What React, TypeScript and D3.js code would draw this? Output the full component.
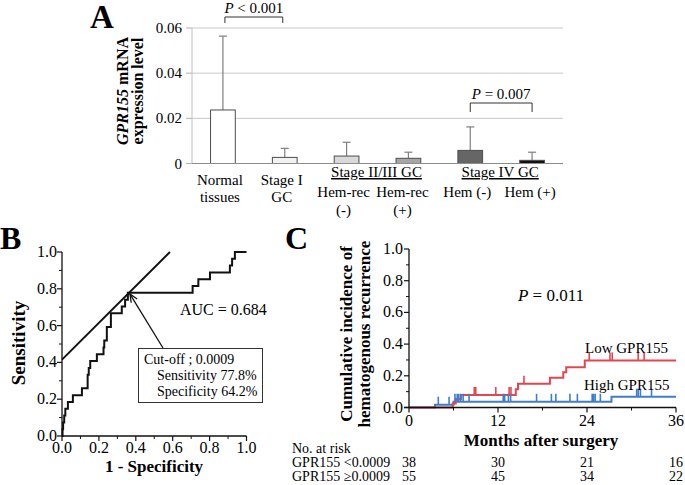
import React from "react";
import * as d3 from "d3";

const FONT = "'Liberation Serif', 'Times New Roman', Times, serif";

// ---------- Panel A data ----------
const aCategories = ["normal", "stage1", "hemRecNeg", "hemRecPos", "hemNeg", "hemPos"];
const aMeans = [0.0237, 0.0027, 0.0033, 0.0023, 0.0058, 0.0014];
const aUpper = [0.0564, 0.0067, 0.0094, 0.005, 0.0162, 0.005];
const aFills = ["#ffffff", "#f2f2f2", "#d9d9d9", "#a6a6a6", "#666666", "#111111"];
const aYTicks = [0, 0.02, 0.04, 0.06];
const aYTickLabels = ["0", "0.02", "0.04", "0.06"];
const aLabelTop = ["Normal", "Stage I", "Hem-rec", "Hem-rec", "Hem (-)", "Hem (+)"];
const aLabelBottom = ["tissues", "GC", "(-)", "(+)", "", ""];
const aGroups = [
  { label: "Stage II/III GC", from: 2, to: 3 },
  { label: "Stage IV GC", from: 4, to: 5 },
];

// ---------- Panel B data ----------
const rocFpr = [0, 0.003, 0.006, 0.012, 0.018, 0.032, 0.059, 0.108, 0.139, 0.145, 0.153, 0.189, 0.225, 0.229, 0.243, 0.265, 0.324, 0.342, 0.357, 0.708, 0.739, 0.802, 0.91, 0.922, 0.937, 1.0];
const rocTpr = [0, 0.037, 0.074, 0.111, 0.148, 0.185, 0.222, 0.259, 0.333, 0.37, 0.407, 0.444, 0.481, 0.519, 0.593, 0.667, 0.704, 0.741, 0.778, 0.815, 0.852, 0.889, 0.926, 0.963, 1.0, 1.0];
const tangentX = [0, 0.585];
const tangentY = [0.415, 1.0];
const cutoffPoint = [0.357, 0.778];
const rocTicks = [0, 0.2, 0.4, 0.6, 0.8, 1.0];
const rocMinor = [0.1, 0.3, 0.5, 0.7, 0.9];

// ---------- Panel C data ----------
const lowTimes = [0, 5.9, 6.3, 7.0, 14.4, 14.7, 19.0, 20.8, 21.2, 23.7, 36];
const lowValues = [0, 0.026, 0.053, 0.079, 0.115, 0.15, 0.187, 0.223, 0.254, 0.297, 0.297];
const lowCensor = [8.8, 9.0, 11.7, 13.5, 13.75, 15.5, 24.3, 27.1, 27.4, 30.9, 31.7];
const highTimes = [0, 3.5, 6.0, 27.3, 36];
const highValues = [0, 0.018, 0.036, 0.068, 0.068];
const highCensor = [3.95, 5.4, 6.2, 6.5, 6.7, 6.95, 7.3, 8.1, 12.7, 12.9, 13.4, 13.7, 17.2, 19.2, 19.8, 21.7, 22.7, 24.7, 24.9, 25.1, 25.8, 30.7, 30.9, 31.2, 32.7];
const kmXTicks = [0, 12, 24, 36];
const kmXMinor = [6, 18, 30];
const kmYTicks = [0, 0.2, 0.4, 0.6, 0.8, 1.0];
const kmYMinor = [0.1, 0.3, 0.5, 0.7, 0.9];
const riskTimes = [0, 12, 24, 36];
const riskLow = [38, 30, 21, 16];
const riskHigh = [55, 45, 34, 22];

const RED = "#e2474f";
const BLUE = "#3f7dcc";

function stepValue(times: number[], values: number[], t: number) {
  const i = d3.bisectRight(times, t) - 1;
  return values[Math.max(0, i)];
}

export default function App() {
  // Panel A scales
  const xA = d3.scaleBand<string>().domain(aCategories).range([192, 563]).paddingInner(0.6).paddingOuter(0.3);
  const yA = d3.scaleLinear().domain([0, 0.06]).range([163.5, 28]);
  const cA = (i: number) => (xA(aCategories[i]) as number) + xA.bandwidth() / 2;
  const labelShift = [-3, -3, -3, -6, -3, -2];

  // Panel B scales
  const xB = d3.scaleLinear().domain([0, 1]).range([62, 246.5]);
  const yB = d3.scaleLinear().domain([0, 1]).range([436, 252]);
  const rocLine = d3.line<number>().x((_, i) => xB(rocFpr[i])).y((_, i) => yB(rocTpr[i])).curve(d3.curveStepAfter);
  const fmt1 = d3.format(".1f");

  // Panel C scales
  const xC = d3.scaleLinear().domain([0, 36]).range([409, 676]);
  const yC = d3.scaleLinear().domain([0, 1]).range([407.5, 249]);
  const kmLine = (times: number[], values: number[]) =>
    d3.line<number>().x((_, i) => xC(times[i])).y((_, i) => yC(values[i])).curve(d3.curveStepAfter)(times as any) as string;

  // arrow in B
  const tipX = xB(cutoffPoint[0]) + 2;
  const tipY = yB(cutoffPoint[1]) + 1;
  const startX = 163, startY = 348;
  const ang = Math.atan2(startY - tipY, startX - tipX);
  const ah = 9, spread = 0.4;

  return (
    <svg width={685} height={485} style={{ position: "absolute", left: 0, top: 0, background: "#fff" }} fontFamily={FONT}>
      <rect width={685} height={485} fill="#fff" />
      {/* ================= Panel A ================= */}
      <text x={90} y={28} fontSize={33} fontWeight="bold">A</text>
      {aYTicks.map((t, i) => (
        <g key={"ag" + i}>
          {t > 0 && <line x1={192} x2={563} y1={yA(t)} y2={yA(t)} stroke="#c8c8c8" strokeWidth={1} />}
          <line x1={186} x2={192} y1={yA(t)} y2={yA(t)} stroke="#b0b0b0" strokeWidth={1} />
          <text x={182} y={yA(t) + 5} fontSize={15} textAnchor="end">{aYTickLabels[i]}</text>
        </g>
      ))}
      <line x1={192} x2={192} y1={yA(0.06)} y2={yA(0)} stroke="#c0c0c0" strokeWidth={1} />
      {aCategories.map((c, i) => (
        <g key={c}>
          <line x1={cA(i)} x2={cA(i)} y1={yA(aMeans[i])} y2={yA(aUpper[i])} stroke="#7f7f7f" strokeWidth={1.2} />
          <line x1={cA(i) - 4} x2={cA(i) + 4} y1={yA(aUpper[i])} y2={yA(aUpper[i])} stroke="#7f7f7f" strokeWidth={1.2} />
          <rect x={xA(c)} y={yA(aMeans[i])} width={xA.bandwidth()} height={yA(0) - yA(aMeans[i])} fill={aFills[i]} stroke="#4d4d4d" strokeWidth={1} />
        </g>
      ))}
      <line x1={192} x2={563} y1={yA(0)} y2={yA(0)} stroke="#8c8c8c" strokeWidth={1} />
      {/* category labels */}
      {aCategories.map((c, i) => {
        const grouped = i >= 2;
        const y1 = grouped ? 197 : 185;
        const y2 = grouped ? 215 : 202;
        return (
          <g key={"al" + c} fontSize={15} textAnchor="middle">
            <text x={cA(i) + labelShift[i]} y={y1}>{aLabelTop[i]}</text>
            {aLabelBottom[i] && <text x={cA(i) + labelShift[i]} y={y2}>{aLabelBottom[i]}</text>}
          </g>
        );
      })}
      {aGroups.map((g) => (
        <text key={g.label} x={(cA(g.from) + cA(g.to)) / 2 - 1} y={177} fontSize={15} textAnchor="middle" textDecoration="underline">{g.label}</text>
      ))}
      {/* y title */}
      <g transform={`translate(128, 91) rotate(-90)`} fontSize={16} fontWeight="bold" textAnchor="middle">
        <text x={0} y={0}><tspan fontStyle="italic">GPR155</tspan> mRNA</text>
        <text x={0} y={15}>expression level</text>
      </g>
      {/* significance brackets */}
      <path d={`M${cA(0) + 2},23 V17 H${cA(1) - 2} V23`} fill="none" stroke="#333" strokeWidth={1} />
      <text x={(cA(0) + cA(1)) / 2} y={13} fontSize={15} textAnchor="middle"><tspan fontStyle="italic">P</tspan> &lt; 0.001</text>
      <path d={`M${cA(4)},112 V103 H${cA(5)} V112`} fill="none" stroke="#333" strokeWidth={1} />
      <text x={(cA(4) + cA(5)) / 2} y={99} fontSize={15} textAnchor="middle"><tspan fontStyle="italic">P</tspan> = 0.007</text>

      {/* ================= Panel B ================= */}
      <text x={0} y={249} fontSize={32} fontWeight="bold">B</text>
      <path d={rocLine(rocFpr as any) as string} fill="none" stroke="#111" strokeWidth={2} />
      <line x1={xB(tangentX[0])} y1={yB(tangentY[0])} x2={xB(tangentX[1])} y2={yB(tangentY[1])} stroke="#111" strokeWidth={2} />
      {/* axes */}
      <line x1={xB(0)} x2={xB(0)} y1={yB(0)} y2={yB(1)} stroke="#111" strokeWidth={1.3} />
      <line x1={xB(0)} x2={xB(1)} y1={yB(0)} y2={yB(0)} stroke="#111" strokeWidth={1.3} />
      {rocTicks.map((t) => (
        <g key={"bt" + t}>
          <line x1={xB(0) - 5} x2={xB(0)} y1={yB(t)} y2={yB(t)} stroke="#111" strokeWidth={1.2} />
          <text x={xB(0) - 5} y={yB(t) + 5} fontSize={16} textAnchor="end">{fmt1(t)}</text>
          <line x1={xB(t)} x2={xB(t)} y1={yB(0)} y2={yB(0) + 5} stroke="#111" strokeWidth={1.2} />
          <text x={xB(t)} y={yB(0) + 17} fontSize={16} textAnchor="middle">{fmt1(t)}</text>
        </g>
      ))}
      {rocMinor.map((t) => (
        <g key={"bm" + t}>
          <line x1={xB(0) - 3} x2={xB(0)} y1={yB(t)} y2={yB(t)} stroke="#111" strokeWidth={1} />
          <line x1={xB(t)} x2={xB(t)} y1={yB(0)} y2={yB(0) + 3} stroke="#111" strokeWidth={1} />
        </g>
      ))}
      <text transform="translate(25, 343) rotate(-90)" fontSize={19} fontWeight="bold" textAnchor="middle">Sensitivity</text>
      <text x={154} y={472} fontSize={17} fontWeight="bold" textAnchor="middle">1 - Specificity</text>
      <text x={180} y={315} fontSize={16}>AUC = 0.684</text>
      {/* arrow */}
      <line x1={startX} y1={startY} x2={tipX} y2={tipY} stroke="#111" strokeWidth={1.3} />
      <path d={`M${tipX + ah * Math.cos(ang - spread)},${tipY + ah * Math.sin(ang - spread)} L${tipX},${tipY} L${tipX + ah * Math.cos(ang + spread)},${tipY + ah * Math.sin(ang + spread)}`} fill="none" stroke="#111" strokeWidth={1.3} />
      <rect x={138.5} y={348.5} width={124} height={54} fill="#fff" stroke="#333" strokeWidth={1} />
      <g fontSize={14}>
        <text x={144} y={364}>Cut-off ; 0.0009</text>
        <text x={157} y={380}>Sensitivity 77.8%</text>
        <text x={157} y={396}>Specificity 64.2%</text>
      </g>

      {/* ================= Panel C ================= */}
      <text x={285} y={249} fontSize={32} fontWeight="bold">C</text>
      <path d={kmLine(highTimes, highValues)} fill="none" stroke={BLUE} strokeWidth={2} />
      <path d={kmLine(lowTimes, lowValues)} fill="none" stroke={RED} strokeWidth={2} />
      {highCensor.map((t, i) => {
        const y = yC(stepValue(highTimes, highValues, t));
        return <line key={"hc" + i} x1={xC(t)} x2={xC(t)} y1={y} y2={y - 8} stroke={BLUE} strokeWidth={1.6} />;
      })}
      {lowCensor.map((t, i) => {
        const y = yC(stepValue(lowTimes, lowValues, t));
        return <line key={"lc" + i} x1={xC(t)} x2={xC(t)} y1={y} y2={y - 8} stroke={RED} strokeWidth={1.6} />;
      })}
      <line x1={xC(0)} x2={xC(0)} y1={yC(0)} y2={yC(1)} stroke="#111" strokeWidth={1.3} />
      <line x1={xC(0) - 5} x2={xC(36)} y1={yC(0)} y2={yC(0)} stroke="#111" strokeWidth={1.3} />
      {kmYTicks.map((t) => (
        <g key={"cy" + t}>
          <line x1={xC(0) - 5} x2={xC(0)} y1={yC(t)} y2={yC(t)} stroke="#111" strokeWidth={1.2} />
          <text x={xC(0) - 6} y={yC(t) + 5} fontSize={16} textAnchor="end">{fmt1(t)}</text>
        </g>
      ))}
      {kmYMinor.map((t) => (
        <line key={"cym" + t} x1={xC(0) - 3} x2={xC(0)} y1={yC(t)} y2={yC(t)} stroke="#111" strokeWidth={1} />
      ))}
      {kmXTicks.map((t) => (
        <g key={"cx" + t}>
          <line x1={xC(t)} x2={xC(t)} y1={yC(0)} y2={yC(0) + 5} stroke="#111" strokeWidth={1.2} />
          <text x={xC(t)} y={yC(0) + 18} fontSize={16} textAnchor="middle">{t}</text>
        </g>
      ))}
      {kmXMinor.map((t) => (
        <line key={"cxm" + t} x1={xC(t)} x2={xC(t)} y1={yC(0)} y2={yC(0) + 3} stroke="#111" strokeWidth={1} />
      ))}
      <g fontSize={17} fontWeight="bold" textAnchor="middle">
        <text transform="translate(352, 334) rotate(-90)">Cumulative incidence of</text>
        <text transform="translate(370, 334) rotate(-90)">hematogenous recurrence</text>
        <text x={541} y={446}>Months after surgery</text>
      </g>
      <text x={551} y={301} fontSize={17} textAnchor="middle"><tspan fontStyle="italic">P</tspan> = 0.011</text>
      <text x={585} y={353} fontSize={15}>Low GPR155</text>
      <text x={584} y={390} fontSize={15}>High GPR155</text>
      {/* number at risk */}
      <g fontSize={14}>
        <text x={292} y={453}>No. at risk</text>
        <text x={292} y={467}>GPR155 &lt;0.0009</text>
        <text x={292} y={481}>GPR155 ≥0.0009</text>
        {riskTimes.map((t, i) => (
          <g key={"r" + t} textAnchor="middle">
            <text x={xC(t)} y={467}>{riskLow[i]}</text>
            <text x={xC(t)} y={481}>{riskHigh[i]}</text>
          </g>
        ))}
      </g>
    </svg>
  );
}
